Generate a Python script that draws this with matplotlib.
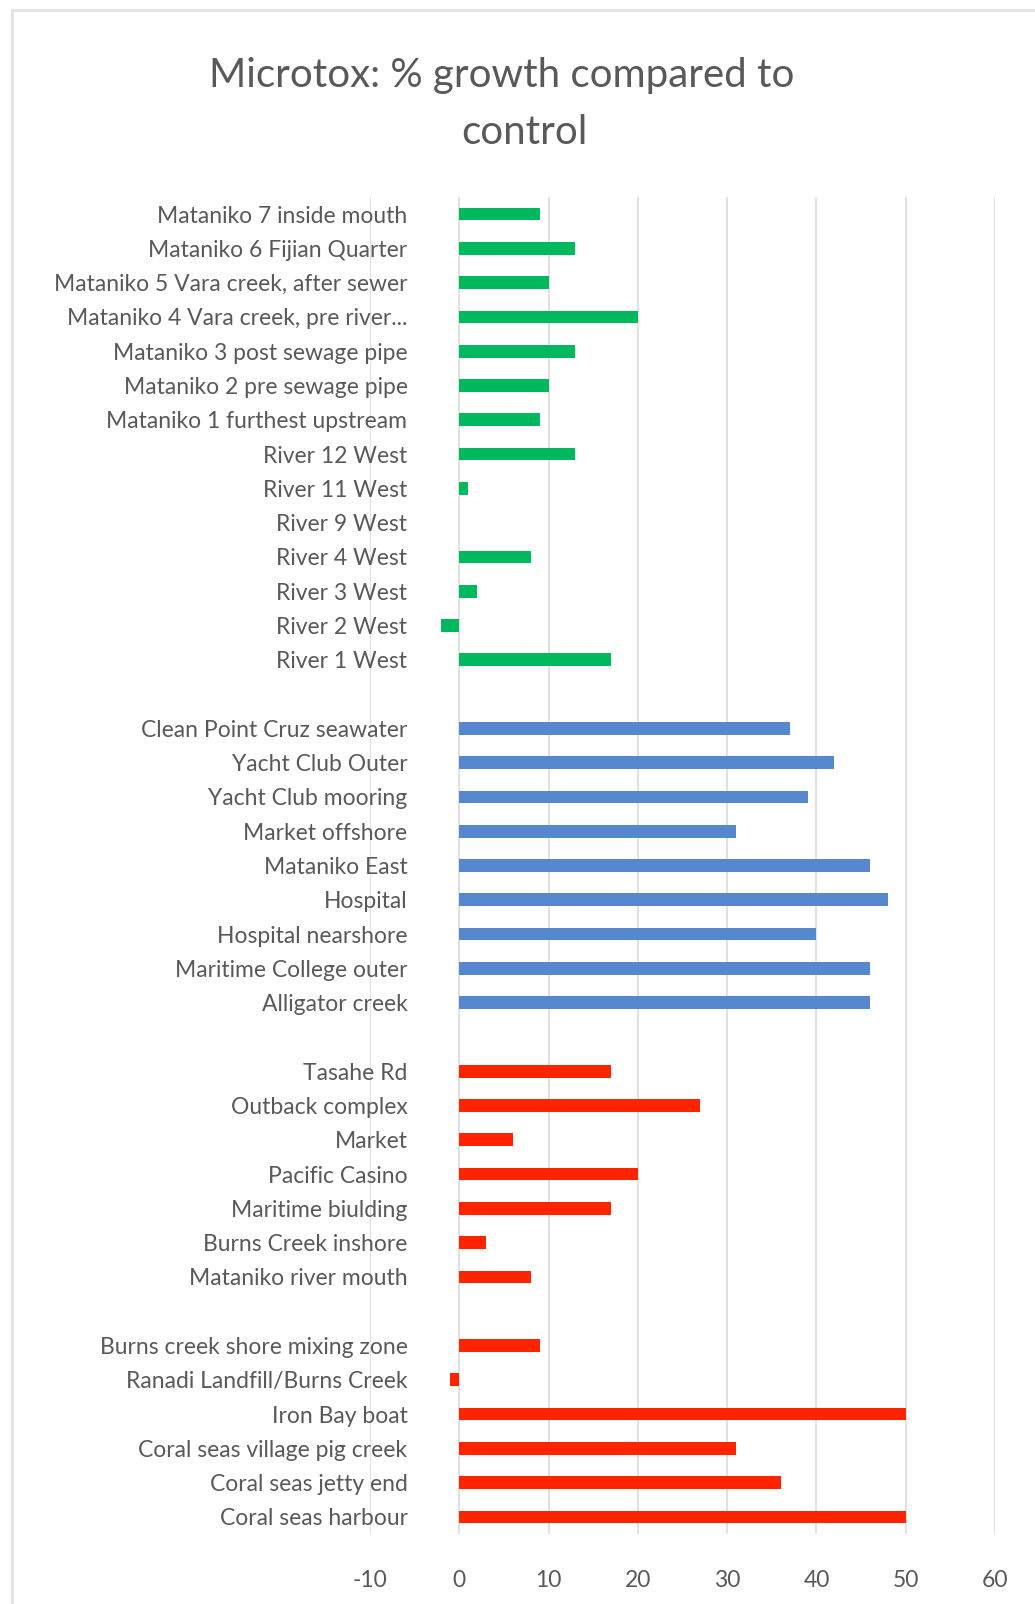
import matplotlib.pyplot as plt
from matplotlib.lines import Line2D

# data, top to bottom within each group
green_labels = ["Mataniko 7 inside mouth", "Mataniko 6 Fijian Quarter",
                "Mataniko 5 Vara creek, after sewer", "Mataniko 4 Vara creek, pre river...",
                "Mataniko 3 post sewage pipe", "Mataniko 2 pre sewage pipe",
                "Mataniko 1 furthest upstream", "River 12 West", "River 11 West",
                "River 9 West", "River 4 West", "River 3 West", "River 2 West", "River 1 West"]
green_vals = [9, 13, 10, 20, 13, 10, 9, 13, 1, 0, 8, 2, -2, 17]

blue_labels = ["Clean Point Cruz seawater", "Yacht Club Outer", "Yacht Club mooring",
               "Market offshore", "Mataniko East", "Hospital", "Hospital nearshore",
               "Maritime College outer", "Alligator creek"]
blue_vals = [37, 42, 39, 31, 46, 48, 40, 46, 46]

red_labels = ["Tasahe Rd", "Outback complex", "Market", "Pacific Casino",
              "Maritime biulding", "Burns Creek inshore", "Mataniko river mouth"]
red_vals = [17, 27, 6, 20, 17, 3, 8]

red2_labels = ["Burns creek shore mixing zone", "Ranadi Landfill/Burns Creek",
               "Iron Bay boat", "Coral seas village pig creek", "Coral seas jetty end",
               "Coral seas harbour"]
red2_vals = [9, -1, 50, 31, 36, 50]

title_lines = ["Microtox: % growth compared to", "control"]

GREEN = "#00B85E"
BLUE = "#5588CE"
RED = "#FF2400"
GREY = "#595959"

plt.rcParams["font.family"] = ["Lato", "DejaVu Sans"]
plt.rcParams["axes.unicode_minus"] = False

fig = plt.figure(figsize=(10.35, 16.04), dpi=100)
ax = fig.add_axes([370 / 1035, 70 / 1604, 625 / 1035, 1337 / 1604])

groups = [(green_labels, green_vals, GREEN), (blue_labels, blue_vals, BLUE),
          (red_labels, red_vals, RED), (red2_labels, red2_vals, RED)]

ticks, ticklabels = [], []
pos = 0
for labels, vals, col in groups:
    ys = list(range(pos, pos + len(labels)))
    ax.barh(ys, vals, height=0.37, color=col, zorder=3)
    ticks += ys
    ticklabels += labels
    pos += len(labels) + 1  # one empty slot between groups

ax.set_ylim(pos - 1.5, -0.5)
ax.set_xlim(-10, 60)
ax.set_xticks(range(-10, 61, 10))
ax.set_yticks(ticks)
ax.set_yticklabels(ticklabels)

ax.grid(axis="x", color="#D9D9D9", linewidth=1.1, zorder=0)
for s in ax.spines.values():
    s.set_visible(False)
ax.tick_params(axis="y", length=0, pad=-27, labelsize=16.5, labelcolor=GREY)
ax.tick_params(axis="x", length=0, pad=26, labelsize=16.5, labelcolor=GREY)

fig.text(502 / 1035, 1 - 75 / 1604, title_lines[0],
         ha="center", va="center", fontsize=29, color=GREY)
fig.text(524 / 1035, 1 - 133 / 1604, title_lines[1],
         ha="center", va="center", fontsize=29, color=GREY)

# chart area border (light grey, top and left)
fig.add_artist(Line2D([12 / 1035, 12 / 1035], [0, 1 - 10 / 1604],
                      transform=fig.transFigure, color="#E3E3E3", linewidth=2))
fig.add_artist(Line2D([12 / 1035, 1], [1 - 10 / 1604, 1 - 10 / 1604],
                      transform=fig.transFigure, color="#E3E3E3", linewidth=2))

fig.savefig("out.png", dpi=100)
